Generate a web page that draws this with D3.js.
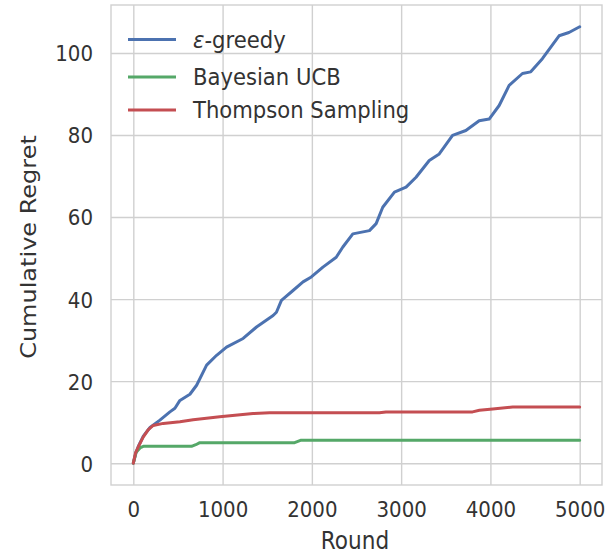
<!DOCTYPE html>
<html><head><meta charset="utf-8">
<script src="https://cdn.jsdelivr.net/npm/d3@7"></script>
<style>body{margin:0;background:#fff}svg{display:block}</style>
</head><body><svg id="c" width="615" height="554"></svg>
<script>
// ---- data ----
const xTicks = [0, 1000, 2000, 3000, 4000, 5000];
const yTicks = [0, 20, 40, 60, 80, 100];
const xLabel = "Round";
const yLabel = "Cumulative Regret";
const seriesNames = ["ε-greedy", "Bayesian UCB", "Thompson Sampling"];
const seriesColors = ["#4C72B0", "#55A868", "#C44E52"];

const epsRounds = [0,30,60,112,187,298,410,466,522,634,709,821,933,1044,1230,1380,1566,1603,1659,1789,1901,1994,2124,2273,2347,2459,2645,2720,2794,2925,3055,3167,3315,3427,3576,3725,3874,3986,4098,4210,4359,4452,4582,4769,4880,5000];
const epsRegret = [0,2.6,4.3,6.6,8.7,10.5,12.5,13.4,15.3,16.8,19.0,23.9,26.3,28.3,30.4,33.2,36.0,36.8,39.7,42.1,44.2,45.4,47.8,50.2,52.7,55.9,56.7,58.4,62.4,66.1,67.3,69.7,73.8,75.4,79.9,81.1,83.5,83.9,87.2,92.1,95.0,95.4,98.6,104.2,105.0,106.4];

const ucbRounds = [0,30,80,112,652,700,745,1807,1880,5000];
const ucbRegret = [0,2.6,3.8,4.1,4.1,4.5,5.0,5.0,5.6,5.6];

const tsRounds = [0,25,56,112,168,223,335,522,670,968,1341,1527,2756,2830,3800,3877,4026,4250,5000];
const tsRegret = [0,2.5,4.0,6.4,8.2,9.2,9.7,10.1,10.6,11.3,12.1,12.3,12.3,12.5,12.5,12.9,13.2,13.7,13.7];

// ---- layout ----
const plot = {left: 111, right: 602, top: 5, bottom: 485};
const svg = d3.select("#c");
const font = "'DejaVu Sans', sans-serif";
const textColor = "#333333";
const gridColor = "#d0d0d0";
const sx = 0.9; // horizontal squeeze of text as in the reference

svg.append("rect").attr("width", 615).attr("height", 554).attr("fill", "#fff");

const x = d3.scaleLinear().domain([-250, 5250]).range([plot.left, plot.right]);
const y = d3.scaleLinear().domain([-5.32, 111.7]).range([plot.bottom, plot.top]);

// x axis with grid
const gx = svg.append("g").attr("transform", `translate(0,${plot.bottom})`)
  .call(d3.axisBottom(x).tickValues(xTicks).tickFormat(d3.format("d"))
    .tickSize(-(plot.bottom - plot.top)));
gx.select(".domain").remove();
gx.selectAll(".tick line").attr("stroke", gridColor).attr("stroke-width", 1.4);
gx.selectAll(".tick text").attr("y", 32).attr("dy", null)
  .attr("transform", `scale(${sx},1)`)
  .attr("fill", textColor).style("font-family", font).style("font-size", "22px");

// y axis with grid
const gy = svg.append("g").attr("transform", `translate(${plot.left},0)`)
  .call(d3.axisLeft(y).tickValues(yTicks).tickFormat(d3.format("d"))
    .tickSize(-(plot.right - plot.left)));
gy.select(".domain").remove();
gy.selectAll(".tick line").attr("stroke", gridColor).attr("stroke-width", 1.4);
gy.selectAll(".tick text").attr("x", -20).attr("dy", "0.36em")
  .attr("transform", `scale(${sx},1)`)
  .attr("fill", textColor).style("font-family", font).style("font-size", "22px");

// frame
svg.append("rect").attr("x", plot.left).attr("y", plot.top)
  .attr("width", plot.right - plot.left).attr("height", plot.bottom - plot.top)
  .attr("fill", "none").attr("stroke", gridColor).attr("stroke-width", 1.4);

// series
const series = [
  {name: seriesNames[0], color: seriesColors[0], xs: epsRounds, ys: epsRegret},
  {name: seriesNames[1], color: seriesColors[1], xs: ucbRounds, ys: ucbRegret},
  {name: seriesNames[2], color: seriesColors[2], xs: tsRounds, ys: tsRegret}
];
const line = d3.line().x(d => x(d[0])).y(d => y(d[1]));
series.forEach(s => {
  svg.append("path").datum(s.xs.map((v, i) => [v, s.ys[i]]))
    .attr("d", line).attr("fill", "none").attr("stroke", s.color)
    .attr("stroke-width", 3).attr("stroke-linejoin", "round").attr("stroke-linecap", "round");
});

// axis labels
svg.append("text").attr("transform", `translate(355,549) scale(${sx},1)`)
  .attr("text-anchor", "middle").attr("fill", textColor)
  .style("font-family", font).style("font-size", "24px").text(xLabel);
svg.append("text").attr("transform", `translate(36,247) scale(${sx},1) rotate(-90)`)
  .attr("text-anchor", "middle").attr("fill", textColor)
  .style("font-family", font).style("font-size", "24px").text(yLabel);

// legend
const legendY = [39.5, 77, 110];
series.forEach((s, i) => {
  svg.append("line").attr("x1", 128).attr("x2", 176)
    .attr("y1", legendY[i]).attr("y2", legendY[i])
    .attr("stroke", s.color).attr("stroke-width", 3);
  const t = svg.append("text")
    .attr("transform", `translate(193,${legendY[i] + 8}) scale(${sx},1)`)
    .attr("fill", textColor).style("font-family", font).style("font-size", "23.5px");
  if (i === 0) {
    t.append("tspan").style("font-style", "italic").text(s.name.charAt(0));
    t.append("tspan").text(s.name.slice(1));
  } else {
    t.text(s.name);
  }
});
</script></body></html>
